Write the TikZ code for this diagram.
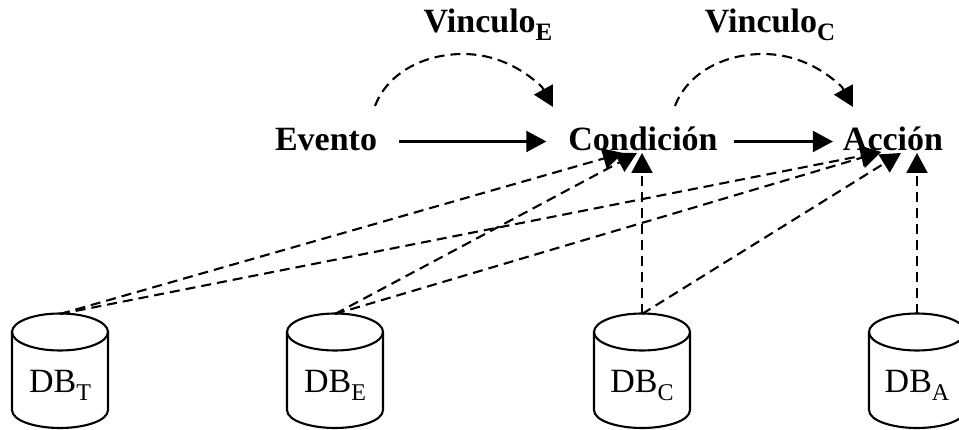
\documentclass[tikz,border=0pt]{standalone}
\usepackage{fontspec}
\setmainfont{Liberation Serif}
\usetikzlibrary{arrows.meta,calc}
\tikzset{
  x=1pt,y=-1pt,
  every path/.style={line width=2.1pt},
  head/.style={-{Triangle[length=20pt,width=21pt]}},
  dep/.style={head,dash pattern=on 10pt off 6pt},
  lab/.style={font=\fontsize{34}{36}\selectfont\bfseries,inner sep=0pt,text height=24pt,text depth=5pt},
  dblab/.style={font=\fontsize{34}{36}\selectfont,inner sep=0pt,text height=24pt,text depth=5pt},
}
\newcommand{\subb}[1]{\raisebox{-8pt}{\fontsize{25}{26}\selectfont #1}}
\newcommand{\subr}[1]{\raisebox{-8pt}{\fontsize{24}{25}\selectfont #1}}
\newcommand{\dbcyl}[3]{%
  \draw (#2,332) ellipse [x radius=48,y radius=18.5];
  \draw (#2-48,332) -- (#2-48,410) .. controls (#2-48,421) and (#2-24,428) .. (#2,428)
        .. controls (#2+24,428) and (#2+48,421) .. (#2+48,410) -- (#2+48,332);
  \node[dblab] (db#1) at (#2,382.5) {DB\subr{#3}};
  \coordinate (top#1) at (#2,314);
}
\begin{document}
\begin{tikzpicture}
\useasboundingbox (0,0) rectangle (959,430);
\node[lab] (evento) at (326,141.5) {Evento};
\node[lab] (cond) at (643,141.5) {Condición};
\node[lab] (accion) at (893,141.5) {Acción};
\node[lab] (vince) at (488,23.5) {Vinculo\subb{E}};
\node[lab] (vincc) at (770,23.5) {Vinculo\subb{C}};
\dbcyl{T}{60}{T}
\dbcyl{E}{335}{E}
\dbcyl{C}{642}{C}
\dbcyl{A}{917}{A}
\coordinate (c1s) at (375,106);
\coordinate (c1k) at (542,87);
\coordinate (c1e) at (553,107);
\coordinate (c2s) at (675,106);
\coordinate (c2k) at (842,87);
\coordinate (c2e) at (853,107);
\coordinate (tc1) at (623,153);
\coordinate (tc2) at (637,153);
\coordinate (tc3) at (642,153);
\coordinate (ta1) at (881,152);
\coordinate (ta2) at (901,153);
\coordinate (ta3) at (917,153);
\draw[head,shorten <=21pt,shorten >=21pt] (evento) -- (cond);
\draw[head,shorten <=15pt,shorten >=9pt] (cond) -- (accion);
\draw[dep] (c1s) .. controls (388,72) and (425,54) .. (463,54) .. controls (495,54) and (522,68) .. (c1k) -- (c1e);
\draw[dep] (c2s) .. controls (688,72) and (725,54) .. (763,54) .. controls (795,54) and (822,68) .. (c2k) -- (c2e);
\draw[dep] (topT) -- (tc1);
\draw[dep] (topT) -- (ta1);
\draw[dep] (topE) -- (tc2);
\draw[dep] (topE) -- (ta1);
\draw[dep] (topC) -- (tc3);
\draw[dep] (topC) -- (ta2);
\draw[dep] (topA) -- (ta3);
\end{tikzpicture}
\end{document}
